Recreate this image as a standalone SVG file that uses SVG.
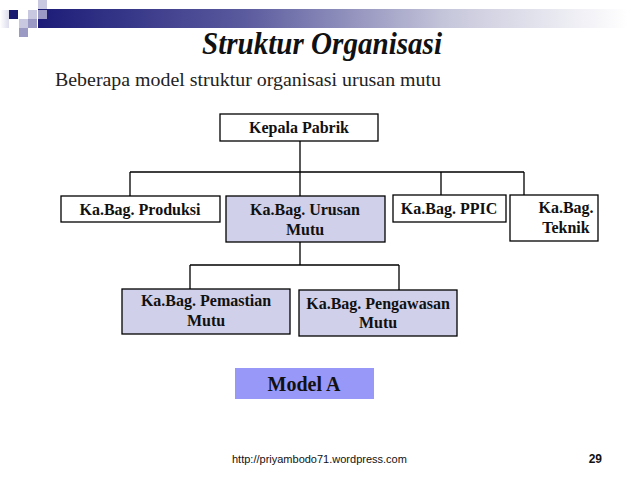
<svg xmlns="http://www.w3.org/2000/svg" width="638" height="479" viewBox="0 0 638 479">
<defs>
<linearGradient id="bar" x1="0" y1="0" x2="1" y2="0">
<stop offset="0" stop-color="#1c1c78"/>
<stop offset="0.35" stop-color="#5a5a9e"/>
<stop offset="0.7" stop-color="#c8c8dc"/>
<stop offset="1" stop-color="#ffffff"/>
</linearGradient>
<linearGradient id="lg" x1="0" y1="0" x2="1" y2="0">
<stop offset="0" stop-color="#ffffff"/>
<stop offset="1" stop-color="#dcdcec"/>
</linearGradient>
</defs>
<style>
.box{stroke:#000;stroke-width:1.3}
.w{fill:#fff}
.p{fill:#d0d0ea}
.t{font-family:"Liberation Serif","Times New Roman",serif;font-weight:bold;font-size:16px;fill:#111;text-anchor:middle}
.c{stroke:#000;stroke-width:1.3;fill:none}
</style>
<rect width="638" height="479" fill="#fff"/>
<g id="decor">
<rect x="0" y="10" width="9" height="18" fill="url(#lg)"/>
<rect x="38" y="9" width="590" height="19" fill="url(#bar)"/>
<rect x="9" y="10" width="9" height="9" fill="#1a1a70"/>
<rect x="28" y="10" width="9" height="9" fill="#c8c8e0"/>
<rect x="38" y="0" width="9" height="9" fill="#c8c8e0"/>
<rect x="38" y="10" width="9" height="9" fill="#9a9ac4"/>
<rect x="19" y="19" width="9" height="9" fill="#c8c8e0"/>
<rect x="28" y="19" width="9" height="9" fill="#9a9ac4"/>
<rect x="19" y="28" width="9" height="9" fill="#9a9ac4"/>
</g>
<text x="322" y="54" font-family="Liberation Serif, serif" font-style="italic" font-weight="bold" font-size="31" text-anchor="middle" textLength="240" lengthAdjust="spacingAndGlyphs" fill="#111">Struktur Organisasi</text>
<text x="55" y="86" font-family="Liberation Serif, serif" font-size="18" textLength="386" lengthAdjust="spacingAndGlyphs" fill="#222">Beberapa model struktur organisasi urusan mutu</text>
<g id="connectors">
<path class="c" d="M300 141V172M130 172H524M130 172V196M300 172V196M441 172V195M524 172V195"/>
<path class="c" d="M300 242V265M190 265H399M190 265V289M399 265V290"/>
</g>
<g id="kepala"><rect class="box w" x="220" y="114" width="158" height="27"/><text class="t" x="299" y="133">Kepala Pabrik</text></g>
<g id="produksi"><rect class="box w" x="61" y="196" width="159" height="26"/><text class="t" x="140" y="215">Ka.Bag. Produksi</text></g>
<g id="urusan"><rect class="box p" x="226" y="196" width="159" height="46"/><text class="t" x="305" y="215">Ka.Bag. Urusan</text><text class="t" x="305" y="235">Mutu</text></g>
<g id="ppic"><rect class="box w" x="393" y="195" width="113" height="27"/><text class="t" x="449" y="214">Ka.Bag. PPIC</text></g>
<g id="teknik"><rect class="box w" x="510" y="195" width="88" height="46"/><text class="t" x="566" y="213">Ka.Bag.</text><text class="t" x="566" y="233">Teknik</text></g>
<g id="pemastian"><rect class="box p" x="122" y="289" width="168" height="45"/><text class="t" x="206" y="306">Ka.Bag. Pemastian</text><text class="t" x="206" y="326">Mutu</text></g>
<g id="pengawasan"><rect class="box p" x="299" y="290" width="158" height="46"/><text class="t" x="378" y="309">Ka.Bag. Pengawasan</text><text class="t" x="378" y="328">Mutu</text></g>
<g id="modelA"><rect x="235" y="368" width="139" height="31" fill="#9898f8"/><text x="304" y="391" font-family="Liberation Serif, serif" font-weight="bold" font-size="20" text-anchor="middle" fill="#111">Model A</text></g>
<text x="232" y="463" font-family="Liberation Sans, Arial, sans-serif" font-size="11" fill="#111">http://priyambodo71.wordpress.com</text>
<text x="602" y="463" font-family="Liberation Sans, Arial, sans-serif" font-size="12" font-weight="bold" text-anchor="end" fill="#111">29</text>
</svg>
